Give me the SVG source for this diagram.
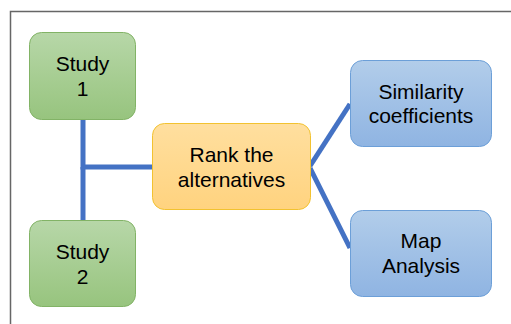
<svg xmlns="http://www.w3.org/2000/svg" width="511" height="324" viewBox="0 0 511 324">
<defs>
<linearGradient id="gGreen" x1="0" y1="0" x2="0" y2="1"><stop offset="0" stop-color="#b7d7a8"/><stop offset="1" stop-color="#97c47e"/></linearGradient>
<linearGradient id="gBlue" x1="0" y1="0" x2="0" y2="1"><stop offset="0" stop-color="#b2cdea"/><stop offset="1" stop-color="#8fb4e2"/></linearGradient>
<linearGradient id="gOrange" x1="0" y1="0" x2="0" y2="1"><stop offset="0" stop-color="#ffdf9f"/><stop offset="1" stop-color="#ffd37f"/></linearGradient>
<style>
.t{font-family:"Liberation Sans",Arial,sans-serif;font-size:21px;fill:#000;text-anchor:middle}
.green{fill:url(#gGreen);stroke:#82b366;stroke-width:1}
.blue{fill:url(#gBlue);stroke:#6c9fd8;stroke-width:1}
.orange{fill:url(#gOrange);stroke:#f2c230;stroke-width:1}
.c{stroke:#4472c4;stroke-width:5;fill:none}
</style>
</defs>
<rect width="511" height="324" fill="#fff"/>
<rect x="10.5" y="11.5" width="620" height="400" fill="none" stroke="#666" stroke-width="1.5"/>
<g id="connectors">
<polyline class="c" points="83,120 83,167 152,167"/>
<line class="c" x1="83" y1="167" x2="83" y2="220"/>
<line class="c" x1="310" y1="166" x2="350" y2="104"/>
<line class="c" x1="310" y1="168" x2="350" y2="248"/>
</g>
<g id="study1">
<rect class="green" x="29.5" y="32.5" width="106" height="87" rx="12"/>
<text class="t" x="82.5" y="71">Study</text>
<text class="t" x="82.5" y="96">1</text>
</g>
<g id="study2">
<rect class="green" x="29.5" y="220.5" width="106" height="86" rx="12"/>
<text class="t" x="82.5" y="259">Study</text>
<text class="t" x="82.5" y="284">2</text>
</g>
<g id="rank">
<rect class="orange" x="152.5" y="123.5" width="158" height="86" rx="12"/>
<text class="t" x="231.5" y="162">Rank the</text>
<text class="t" x="231.5" y="187">alternatives</text>
</g>
<g id="similarity">
<rect class="blue" x="350.5" y="60.5" width="141" height="86" rx="12"/>
<text class="t" x="421" y="99">Similarity</text>
<text class="t" x="421" y="123">coefficients</text>
</g>
<g id="map">
<rect class="blue" x="350.5" y="210.5" width="141" height="86" rx="12"/>
<text class="t" x="421" y="248">Map</text>
<text class="t" x="421" y="273">Analysis</text>
</g>
</svg>
